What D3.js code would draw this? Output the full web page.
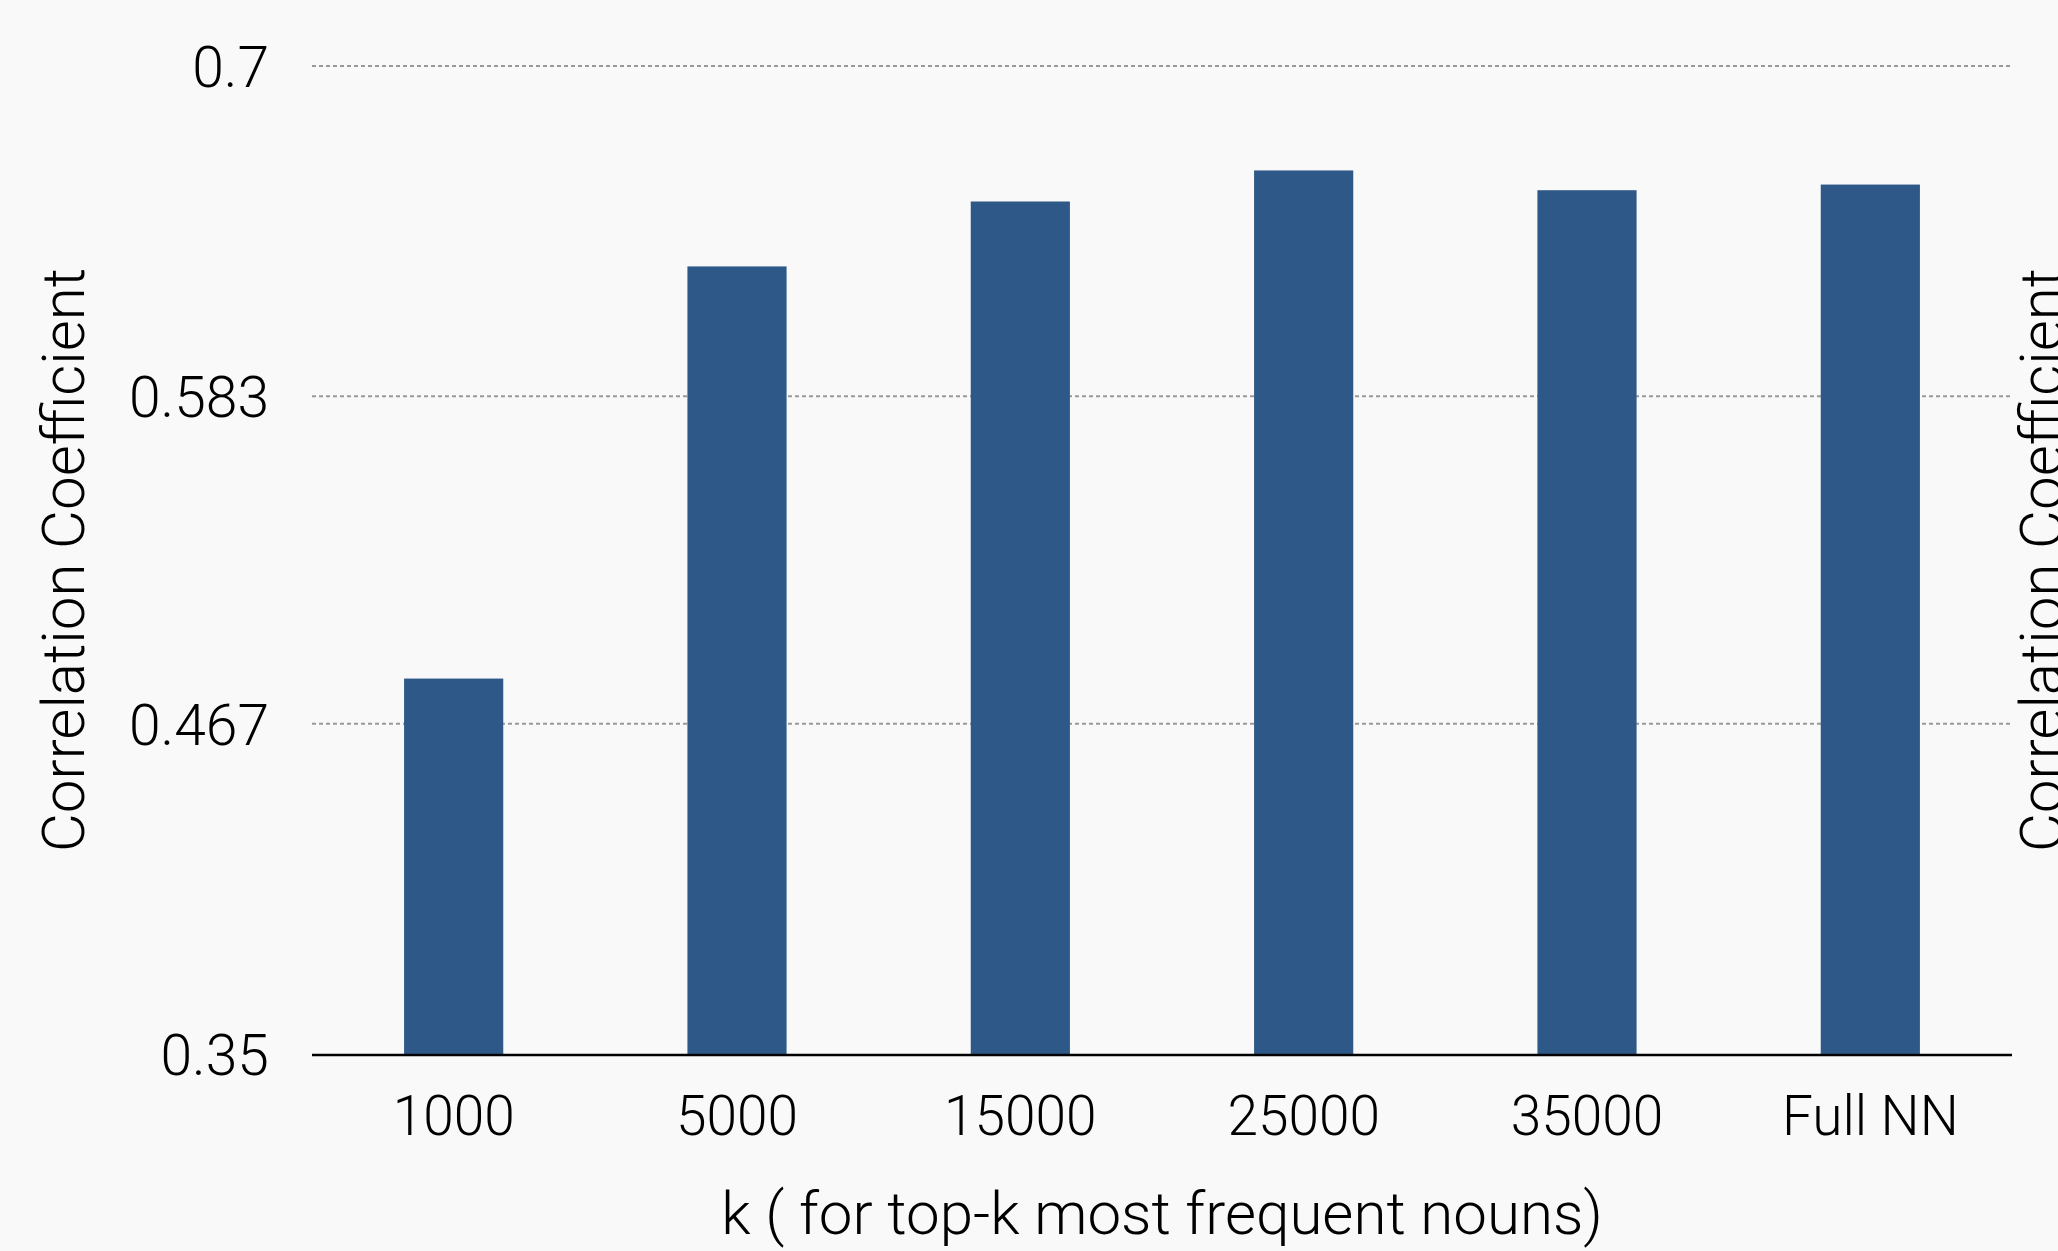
<!DOCTYPE html>
<html>
<head>
<meta charset="utf-8">
<script src="https://cdn.jsdelivr.net/npm/d3@7"></script>
<style>
	body { margin: 0; background: #f9f9f9; }
	text { font-family: "Roboto", "Liberation Sans", sans-serif; font-weight: 300; fill: #000; }
</style>
</head>
<body>
<div id="bar-chart"></div>
<script>
//Data
const categories = ["1000", "5000", "15000", "25000", "35000", "Full NN"];
const values = [0.483, 0.629, 0.652, 0.663, 0.656, 0.658];
const yTicks = [0.35, 0.467, 0.583, 0.7];
const yTickLabels = ["0.35", "0.467", "0.583", "0.7"];

//Svg container width and height
const c_width = 2058;
const c_height = 1251;

//plot area
const plotLeft = 312;
const plotRight = 2012;
const plotTop = 66;
const plotBottom = 1054;

const svgContainer = d3.select("#bar-chart")
					   .append("svg")
					   .attr("width", c_width)
					   .attr("height", c_height);

svgContainer.append('rect')
			.attr('width', c_width)
			.attr('height', c_height)
			.attr('fill', '#f9f9f9');

//Scales
const xScale = d3.scaleBand()
				 .domain(categories)
				 .range([plotLeft, plotRight])
				 .paddingInner(0.65)
				 .paddingOuter(0.325);

const yScale = d3.scaleLinear()
				 .domain([0.35, 0.7])
				 .range([plotBottom, plotTop]);

//Gridlines
svgContainer.append('g')
			.selectAll('line')
			.data(yTicks.slice(1))
			.enter()
			.append('line')
			.attr('x1', plotLeft)
			.attr('x2', plotRight)
			.attr('y1', d => yScale(d))
			.attr('y2', d => yScale(d))
			.attr('stroke', '#999')
			.attr('stroke-width', 2)
			.attr('stroke-dasharray', '4,3');

//Bars
svgContainer.selectAll('.bar')
			.data(values)
			.enter()
			.append('rect')
			.attr('class', 'bar')
			.attr('x', (d, i) => xScale(categories[i]))
			.attr('y', d => yScale(d))
			.attr('width', xScale.bandwidth())
			.attr('height', d => yScale(0.35) - yScale(d))
			.attr('fill', '#2e5888');

//Baseline
svgContainer.append('line')
			.attr('x1', plotLeft)
			.attr('x2', plotRight)
			.attr('y1', plotBottom + 1)
			.attr('y2', plotBottom + 1)
			.attr('stroke', '#000')
			.attr('stroke-width', 2.5);

//Axes
const xAxis = d3.axisBottom(xScale).tickSize(0).tickPadding(0);
const yAxis = d3.axisLeft(yScale)
				.tickValues(yTicks)
				.tickFormat((d, i) => yTickLabels[i])
				.tickSize(0)
				.tickPadding(0);

const gx = svgContainer.append('g')
					   .attr('transform', 'translate(0,' + plotBottom + ')')
					   .call(xAxis)
					   .attr('font-family', null)
					   .attr('font-size', null);
gx.select('.domain').remove();
gx.selectAll('text')
  .attr('y', 81)
  .attr('dy', 0)
  .style('font-size', '55px');

const gy = svgContainer.append('g')
					   .attr('transform', 'translate(269,0)')
					   .call(yAxis)
					   .attr('font-family', null)
					   .attr('font-size', null);
gy.select('.domain').remove();
gy.selectAll('text')
  .attr('x', 0)
  .attr('dy', '0.36em')
  .style('font-size', '57px');

//Axis titles
svgContainer.append('text')
			.attr('x', (plotLeft + plotRight) / 2)
			.attr('y', 1234)
			.attr('text-anchor', 'middle')
			.style('font-size', '60px')
			.text("k ( for top-k most frequent nouns)");

svgContainer.append('text')
			.attr('transform', 'translate(84,' + (plotTop + plotBottom) / 2 + ') rotate(-90)')
			.attr('text-anchor', 'middle')
			.style('font-size', '60px')
			.text("Correlation Coefficient");

//Mirrored title on the right edge
svgContainer.append('text')
			.attr('transform', 'translate(2062,' + (plotTop + plotBottom) / 2 + ') rotate(-90)')
			.attr('text-anchor', 'middle')
			.style('font-size', '60px')
			.text("Correlation Coefficient");
</script>
</body>
</html>
